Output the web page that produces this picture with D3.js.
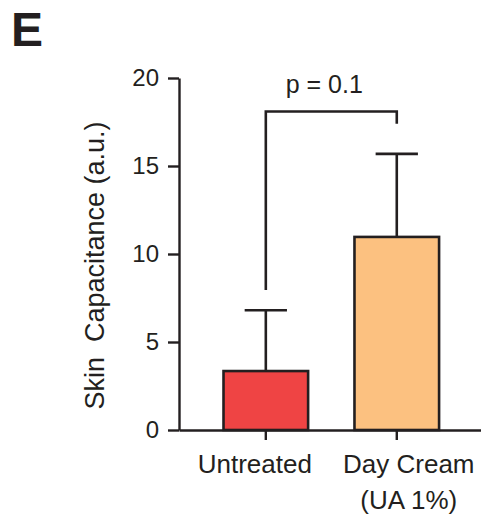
<!DOCTYPE html>
<html lang="en">
<head>
  <meta charset="UTF-8" />
  <title>Skin Capacitance</title>
  <script src="https://d3js.org/d3.v7.min.js"></script>
  <style>
    html, body { margin: 0; padding: 0; background: #fff; }
    svg { display: block; font-family: 'Liberation Sans', Arial, sans-serif; }
    .axis path, .axis line { stroke: #231f20; stroke-width: 2.4px; }
    .axis text { fill: #231f20; font-size: 24px; }
    .axis text.cat { font-size: 26px; }
  </style>
</head>
<body>
  <div id="chart"></div>
  <script>
    // values
    const categories = ["Untreated", "Day Cream\n(UA 1%)"];
    const means = [3.35, 10.97];
    const errors = [3.45, 4.72];
    const colors = ["#ef4444", "#fcc180"];
    const yTicks = [0, 5, 10, 15, 20];
    const pLabel = "p = 0.1";
    const bracket = { top: 18.1, leftEnd: 7.95, rightEnd: 17.4 };

    const width = 481, height = 515;
    const margin = { top: 78, right: 0, bottom: 85, left: 179 };
    const ink = "#231f20";
    const labelShift = [-11, 12]; // category labels sit a little off the tick

    const svg = d3.select("#chart").append("svg")
      .attr("width", width)
      .attr("height", height);

    const x = d3.scaleBand()
      .domain(categories)
      .range([margin.left, width])
      .paddingInner(0.354)
      .paddingOuter(0.33)
      .align(0.515);

    const y = d3.scaleLinear()
      .domain([0, 20])
      .range([height - margin.bottom, margin.top]);

    // panel letter
    svg.append("text")
      .attr("x", 11)
      .attr("y", 46)
      .attr("font-size", 48)
      .attr("font-weight", "bold")
      .attr("fill", ink)
      .text("E");

    // bars
    svg.selectAll(".bar")
      .data(categories)
      .join("rect")
      .attr("class", "bar")
      .attr("x", d => x(d))
      .attr("width", x.bandwidth())
      .attr("y", (d, i) => y(means[i]))
      .attr("height", (d, i) => y(0) - y(means[i]))
      .attr("fill", (d, i) => colors[i])
      .attr("stroke", ink)
      .attr("stroke-width", 2.6);

    // error bars (upper only)
    const err = svg.selectAll(".err")
      .data(categories)
      .join("g")
      .attr("class", "err")
      .attr("stroke", ink)
      .attr("stroke-width", 2.6);

    err.append("line")
      .attr("x1", d => x(d) + x.bandwidth() / 2)
      .attr("x2", d => x(d) + x.bandwidth() / 2)
      .attr("y1", (d, i) => y(means[i]))
      .attr("y2", (d, i) => y(means[i] + errors[i]));

    err.append("line")
      .attr("x1", d => x(d) + x.bandwidth() * 0.25)
      .attr("x2", d => x(d) + x.bandwidth() * 0.75)
      .attr("y1", (d, i) => y(means[i] + errors[i]))
      .attr("y2", (d, i) => y(means[i] + errors[i]));

    // y axis
    svg.append("g")
      .attr("class", "axis")
      .attr("transform", `translate(${margin.left},0)`)
      .call(d3.axisLeft(y).tickValues(yTicks).tickSize(11).tickPadding(9).tickSizeOuter(0));

    // x axis
    const xAxis = svg.append("g")
      .attr("class", "axis")
      .attr("transform", `translate(0,${y(0)})`)
      .call(d3.axisBottom(x).tickSize(10).tickSizeOuter(0).tickFormat(""));

    xAxis.selectAll(".tick")
      .append("text")
      .attr("class", "cat")
      .attr("text-anchor", "middle")
      .attr("transform", (d, i) => `translate(${labelShift[i]},0)`)
      .selectAll("tspan")
      .data(d => d.split("\n"))
      .join("tspan")
      .attr("x", 0)
      .attr("y", (d, i) => 43 + i * 36)
      .text(d => d);

    // y label
    svg.append("text")
      .attr("transform", `translate(104,${(121 + 410) / 2}) rotate(-90)`)
      .attr("text-anchor", "middle")
      .attr("font-size", 27)
      .attr("fill", ink)
      .attr("xml:space", "preserve")
      .style("white-space", "pre")
      .text("Skin  Capacitance (a.u.)");

    // significance bracket
    const xl = x(categories[0]) + x.bandwidth() / 2;
    const xr = x(categories[1]) + x.bandwidth() / 2;
    svg.append("path")
      .attr("d", d3.line()([
        [xl, y(bracket.leftEnd)],
        [xl, y(bracket.top)],
        [xr, y(bracket.top)],
        [xr, y(bracket.rightEnd)]
      ]))
      .attr("fill", "none")
      .attr("stroke", ink)
      .attr("stroke-width", 2.6);

    svg.append("text")
      .attr("x", (xl + xr) / 2 - 7)
      .attr("y", 93)
      .attr("text-anchor", "middle")
      .attr("font-size", 25)
      .attr("fill", ink)
      .text(pLabel);
  </script>
</body>
</html>
